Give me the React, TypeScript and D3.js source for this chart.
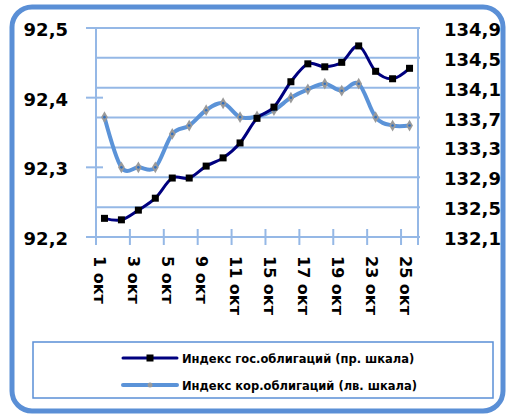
import { useEffect, useRef } from "react";
import * as d3 from "d3";

const WIDTH = 509;
const HEIGHT = 414;
const plot = { left: 96, right: 418, top: 28, bottom: 237 };

// trading days of October
const DAYS: number[] = [1, 2, 3, 4, 5, 8, 9, 10, 11, 12, 15, 16, 17, 18, 19, 22, 23, 24, 25];
const GOV: number[] = [
  132.35, 132.33, 132.46, 132.62, 132.89, 132.89, 133.05, 133.16, 133.36, 133.69,
  133.84, 134.18, 134.42, 134.38, 134.44, 134.66, 134.32, 134.22, 134.36,
];
const CORP: number[] = [
  92.372, 92.3, 92.3, 92.3, 92.348, 92.36, 92.382, 92.392, 92.372, 92.373,
  92.382, 92.4, 92.412, 92.42, 92.41, 92.42, 92.372, 92.36, 92.36,
];
const LEFT_TICKS: number[] = [92.2, 92.3, 92.4, 92.5];
const RIGHT_TICKS: number[] = [132.1, 132.5, 132.9, 133.3, 133.7, 134.1, 134.5, 134.9];
const LEGEND: string[] = [
  "Индекс гос.облигаций (пр. шкала)",
  "Индекс кор.облигаций (лв. шкала)",
];

const GRID = "#95B8E6";
const FRAME = "#5A8FD6";
const NAVY = "#00007F";
const LIGHT = "#5B93D8";
const FONT = "DejaVu Sans";

const comma = (v: number) => d3.format(".1f")(v).replace(".", ",");

const App = () => {
  const svgRef = useRef<SVGSVGElement | null>(null);

  useEffect(() => {
    if (!svgRef.current) return;
    const svg = d3.select(svgRef.current);
    svg.selectAll("*").remove();

    // frame
    svg
      .append("rect")
      .attr("x", 12)
      .attr("y", 7)
      .attr("width", 491)
      .attr("height", 404)
      .attr("rx", 20)
      .attr("fill", "white")
      .attr("stroke", FRAME)
      .attr("stroke-width", 5);

    const x = d3
      .scaleBand<number>()
      .domain(DAYS)
      .range([plot.left, plot.right]);
    const cx = (d: number) => (x(d) as number) + x.bandwidth() / 2;
    const yLeft = d3.scaleLinear().domain([92.2, 92.5]).range([plot.bottom, plot.top]);
    const yRight = d3.scaleLinear().domain([132.1, 134.9]).range([plot.bottom, plot.top]);

    // gridlines (right scale)
    svg
      .append("g")
      .selectAll("line")
      .data(RIGHT_TICKS)
      .join("line")
      .attr("x1", plot.left)
      .attr("x2", plot.right + 2)
      .attr("y1", (d) => yRight(d))
      .attr("y2", (d) => yRight(d))
      .attr("stroke", GRID)
      .attr("stroke-width", 2);

    // left axis line + cross ticks
    svg
      .append("line")
      .attr("x1", plot.left)
      .attr("x2", plot.left)
      .attr("y1", plot.top)
      .attr("y2", plot.bottom + 8)
      .attr("stroke", GRID)
      .attr("stroke-width", 2);
    svg
      .append("g")
      .selectAll("line")
      .data(LEFT_TICKS)
      .join("line")
      .attr("x1", plot.left - 10)
      .attr("x2", plot.left + 7)
      .attr("y1", (d) => yLeft(d))
      .attr("y2", (d) => yLeft(d))
      .attr("stroke", GRID)
      .attr("stroke-width", 2);

    // right axis line
    svg
      .append("line")
      .attr("x1", plot.right)
      .attr("x2", plot.right)
      .attr("y1", plot.top)
      .attr("y2", plot.bottom + 8)
      .attr("stroke", GRID)
      .attr("stroke-width", 2);

    // x ticks every two categories
    const tickDays = DAYS.filter((_, i) => i % 2 === 1);
    svg
      .append("g")
      .selectAll("line")
      .data(tickDays)
      .join("line")
      .attr("x1", (d) => (x(d) as number) + x.bandwidth())
      .attr("x2", (d) => (x(d) as number) + x.bandwidth())
      .attr("y1", plot.bottom - 8)
      .attr("y2", plot.bottom + 8)
      .attr("stroke", GRID)
      .attr("stroke-width", 2);

    // left labels
    svg
      .append("g")
      .selectAll("text")
      .data(LEFT_TICKS)
      .join("text")
      .attr("x", 68)
      .attr("y", (d) => yLeft(d) + 8)
      .attr("text-anchor", "end")
      .attr("font-family", FONT)
      .attr("font-weight", "bold")
      .attr("font-size", 18)
      .text((d) => comma(d));

    // right labels
    svg
      .append("g")
      .selectAll("text")
      .data(RIGHT_TICKS)
      .join("text")
      .attr("x", 444)
      .attr("y", (d) => yRight(d) + 8)
      .attr("font-family", FONT)
      .attr("font-weight", "bold")
      .attr("font-size", 18)
      .text((d) => comma(d));

    // x labels, rotated
    const labelDays = DAYS.filter((_, i) => i % 2 === 0);
    svg
      .append("g")
      .selectAll("text")
      .data(labelDays)
      .join("text")
      .attr("transform", (d) => `translate(${cx(d) - 10}, 256) rotate(90)`)
      .attr("font-family", FONT)
      .attr("font-weight", "bold")
      .attr("font-size", 16)
      .text((d) => `${d} окт`);

    const curve = d3.curveCatmullRom.alpha(0);

    // corporate (left scale)
    const lineCorp = d3
      .line<number>()
      .x((_, i) => cx(DAYS[i]))
      .y((d) => yLeft(d))
      .curve(curve);
    svg
      .append("path")
      .datum(CORP)
      .attr("fill", "none")
      .attr("stroke", LIGHT)
      .attr("stroke-width", 4)
      .attr("d", lineCorp);

    const star = d3.symbol().type(d3.symbolDiamond).size(40);
    const gCorp = svg.append("g");
    CORP.forEach((v, i) => {
      gCorp
        .append("path")
        .attr("d", star() as string)
        .attr("transform", `translate(${cx(DAYS[i])}, ${yLeft(v)})`)
        .attr("fill", "#9a9a9a");
      gCorp
        .append("circle")
        .attr("cx", cx(DAYS[i]))
        .attr("cy", yLeft(v))
        .attr("r", 1.3)
        .attr("fill", "#2F6FC0");
    });

    // government (right scale)
    const lineGov = d3
      .line<number>()
      .x((_, i) => cx(DAYS[i]))
      .y((d) => yRight(d))
      .curve(curve);
    svg
      .append("path")
      .datum(GOV)
      .attr("fill", "none")
      .attr("stroke", NAVY)
      .attr("stroke-width", 3)
      .attr("d", lineGov);
    svg
      .append("g")
      .selectAll("rect")
      .data(GOV)
      .join("rect")
      .attr("x", (_, i) => cx(DAYS[i]) - 3.5)
      .attr("y", (d) => yRight(d) - 3.5)
      .attr("width", 7)
      .attr("height", 7)
      .attr("fill", "black");

    // legend
    svg
      .append("rect")
      .attr("x", 33)
      .attr("y", 342)
      .attr("width", 460)
      .attr("height", 56)
      .attr("fill", "white")
      .attr("stroke", FRAME)
      .attr("stroke-width", 1.5);

    const rows = [358, 385];
    const lg = svg.append("g");
    LEGEND.forEach((label, i) => {
      lg.append("line")
        .attr("x1", 123)
        .attr("x2", 177)
        .attr("y1", rows[i])
        .attr("y2", rows[i])
        .attr("stroke", i === 0 ? NAVY : LIGHT)
        .attr("stroke-width", i === 0 ? 3 : 4)
        .attr("stroke-linecap", "round");
      if (i === 0) {
        lg.append("rect")
          .attr("x", 146.5)
          .attr("y", rows[i] - 3.5)
          .attr("width", 7)
          .attr("height", 7)
          .attr("fill", "black");
      } else {
        lg.append("circle")
          .attr("cx", 150)
          .attr("cy", rows[i])
          .attr("r", 2.5)
          .attr("fill", "#9a9a9a");
      }
      lg.append("text")
        .attr("x", 182)
        .attr("y", rows[i] + 4.5)
        .attr("font-family", FONT)
        .attr("font-weight", "bold")
        .attr("font-size", 11.5)
        .text(label);
    });
  }, []);

  return (
    <div style={{ position: "absolute", left: 0, top: 0 }}>
      <svg ref={svgRef} width={WIDTH} height={HEIGHT} />
    </div>
  );
};

export default App;
